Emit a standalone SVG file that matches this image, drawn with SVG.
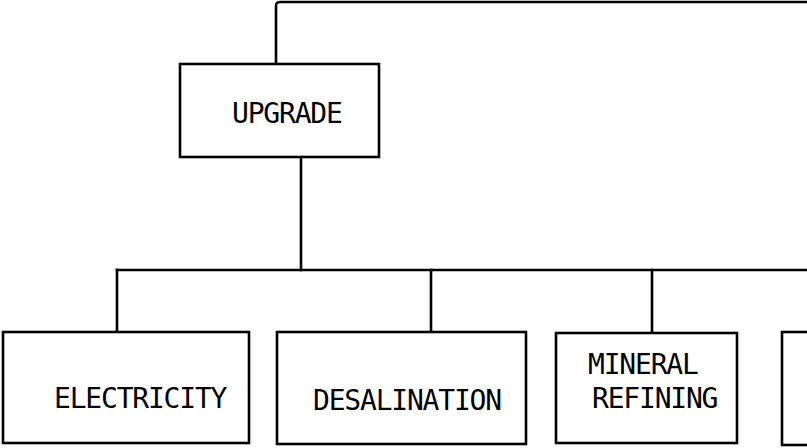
<svg xmlns="http://www.w3.org/2000/svg" width="807" height="448" viewBox="0 0 807 448">
  <style>
    .box { fill: #ffffff; stroke: #000000; stroke-width: 2.6; }
    .wire { fill: none; stroke: #000000; stroke-width: 2.6; stroke-linecap: square; }
    .lbl { font-family: "DejaVu Sans Mono", "Liberation Mono", monospace; font-size: 28px; letter-spacing: -1.2px; fill: #000000; }
  </style>
  <rect x="0" y="0" width="807" height="448" fill="#ffffff"/>
  <g id="connectors">
    <path class="wire" d="M276,63 L276,6 Q276,2 280,2 L807,2"/>
    <path class="wire" d="M301,157 L301,270"/>
    <path class="wire" d="M117,270 L807,270"/>
    <path class="wire" d="M117,270 L117,332"/>
    <path class="wire" d="M431,270 L431,332"/>
    <path class="wire" d="M652,270 L652,333"/>
  </g>
  <g id="upgrade">
    <rect class="box" x="180" y="64" width="199" height="93"/>
    <text class="lbl" x="232" y="123">UPGRADE</text>
  </g>
  <g id="electricity">
    <rect class="box" x="3" y="332" width="246" height="111"/>
    <text class="lbl" x="54" y="408">ELECTRICITY</text>
  </g>
  <g id="desalination">
    <rect class="box" x="277" y="332" width="249" height="112"/>
    <text class="lbl" x="313" y="410">DESALINATION</text>
  </g>
  <g id="mineral-refining">
    <rect class="box" x="556" y="333" width="181" height="110"/>
    <text class="lbl" x="588" y="374">MINERAL</text>
    <text class="lbl" x="592" y="408">REFINING</text>
  </g>
  <g id="partial-box">
    <rect class="box" x="782" y="332" width="40" height="113"/>
  </g>
</svg>
